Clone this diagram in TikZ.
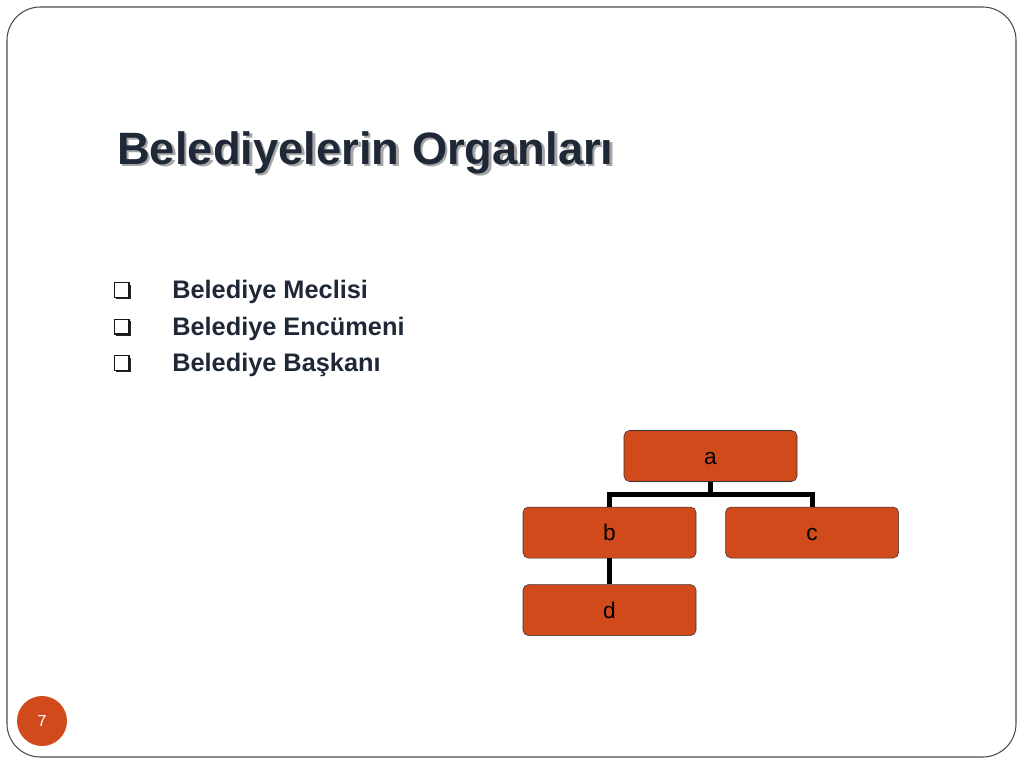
\documentclass[tikz,border=0pt]{standalone}
\usepackage{fontspec}
\setmainfont{Liberation Sans}
\usetikzlibrary{positioning,shadows}
\definecolor{boxorange}{HTML}{D04A1C}
\definecolor{titlenavy}{HTML}{1E2836}
\newcommand{\shadowtext}[1]{\rlap{\hspace{1.9pt}\raisebox{-1.9pt}{\color{black!35}#1}}#1}
\tikzset{
  orgbox/.style={draw=black!80, fill=boxorange, rounded corners=4pt,
    minimum width=129.75pt, minimum height=38.25pt, inner sep=0pt,
    text height=12pt, text depth=0pt, font=\fontsize{17}{19}\selectfont},
  conn/.style={draw=black, line width=3.75pt},
  chk/.style={draw=black!90, fill=white, line width=1pt, minimum size=11pt,
    inner sep=0pt, drop shadow={shadow xshift=1.6pt, shadow yshift=-1.6pt, fill=black!85, opacity=1}},
  item/.style={anchor=base west, text=titlenavy, inner sep=0pt,
    font=\bfseries\fontsize{19}{22}\selectfont}
}

\begin{document}
\begin{tikzpicture}[x=0.75pt,y=-0.75pt]
  \useasboundingbox (0,0) rectangle (1024,768);
  \draw[black!70, line width=0.8pt, rounded corners=25pt] (7,7) rectangle (1016,757);

  % title
  \node[anchor=base west, inner sep=0pt, text=titlenavy,
    font=\bfseries\fontsize{34}{40}\selectfont] (title) at (117,164) {\shadowtext{Belediyelerin Organları}};

  % list
  \node[chk] (chk1) at (121.5,290) {};
  \node[chk] (chk2) at (121.5,326.5) {};
  \node[chk] (chk3) at (121.5,363) {};
  \node[item] (meclis) at (172,298) {Belediye Meclisi};
  \node[item] (encumen) at (172,335) {Belediye Encümeni};
  \node[item] (baskan) at (172,371) {Belediye Başkanı};

  % chart
  \node[orgbox] (a) at (710.5,456) {a};
  \node[orgbox, below=18.75pt of a, xshift=-75.75pt] (b) {b};
  \node[orgbox, right=21.75pt of b] (c) {c};
  \node[orgbox, below=19.5pt of b] (d) {d};

  \draw[conn] (a.south) -- ++(0,13) -| (b.north);
  \draw[conn] (a.south) -- ++(0,13) -| (c.north);
  \draw[conn] (b.south) -- (d.north);

  % page number
  \node[circle, fill=boxorange, minimum size=37.5pt, inner sep=0pt, text=white,
    font=\fontsize{12}{14}\selectfont] (pagenum) at (42,721) {7};
\end{tikzpicture}
\end{document}
